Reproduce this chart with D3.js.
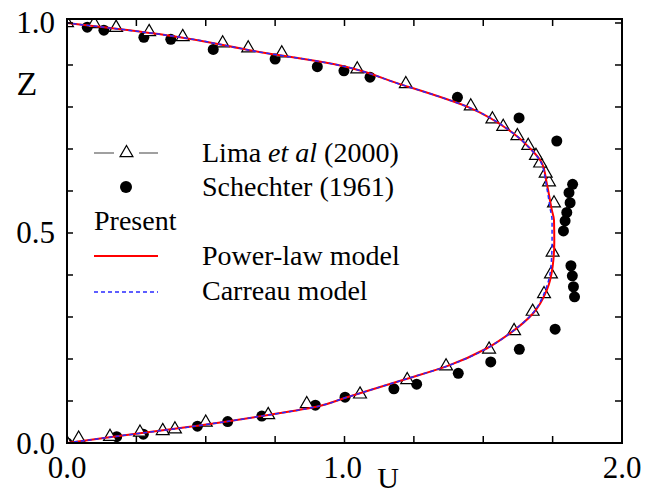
<!DOCTYPE html>
<html>
<head>
  <meta charset="utf-8">
  <title>Velocity profile U vs Z</title>
  <script src="https://d3js.org/d3.v7.min.js"></script>
  <style>
    body { margin: 0; background: #fff; }
    text { font-family: "Liberation Serif", "Times New Roman", serif; fill: #000; }
  </style>
</head>
<body>
<svg width="647" height="495"></svg>
<script>
  // Lima et al (2000) - triangles
  const limaU = [0.000, 0.042, 0.155, 0.263, 0.345, 0.389, 0.500, 0.725, 0.864, 1.056, 1.226, 1.366,
                 1.521, 1.611, 1.678, 1.719, 1.744, 1.750, 1.755, 1.737, 1.725, 1.705, 1.690, 1.662,
                 1.623, 1.572, 1.533, 1.455, 1.221, 1.046, 0.774, 0.653, 0.561, 0.417, 0.296, 0.177,
                 0.098, 0.000];
  const limaZ = [0.000, 0.011, 0.015, 0.025, 0.029, 0.033, 0.049, 0.067, 0.093, 0.116, 0.150, 0.183,
                 0.223, 0.267, 0.313, 0.355, 0.402, 0.454, 0.571, 0.621, 0.642, 0.666, 0.684, 0.708,
                 0.731, 0.753, 0.771, 0.802, 0.855, 0.890, 0.928, 0.940, 0.952, 0.967, 0.979, 0.989,
                 0.998, 1.000];

  // Schechter (1961) - filled circles
  const schU = [0.000, 0.179, 0.275, 0.470, 0.579, 0.702, 0.895, 1.002, 1.178, 1.260, 1.410, 1.527,
                1.630, 1.759, 1.829, 1.825, 1.821, 1.816, 1.789, 1.795, 1.801, 1.813, 1.809, 1.822,
                1.765, 1.629, 1.407, 1.092, 0.998, 0.902, 0.750, 0.527, 0.374, 0.277, 0.133, 0.073];
  const schZ = [0.000, 0.015, 0.021, 0.040, 0.051, 0.064, 0.090, 0.109, 0.129, 0.140, 0.166, 0.193,
                0.223, 0.271, 0.348, 0.372, 0.398, 0.422, 0.505, 0.529, 0.549, 0.572, 0.596, 0.616,
                0.719, 0.774, 0.823, 0.871, 0.886, 0.896, 0.914, 0.937, 0.961, 0.966, 0.983, 0.990];

  // Present: power-law and Carreau model curves
  const curveZ = [0.000, 0.016, 0.041, 0.064, 0.088, 0.107, 0.150, 0.183, 0.225, 0.261, 0.309, 0.364,
                  0.420, 0.480, 0.530, 0.555, 0.618, 0.667, 0.698, 0.738, 0.798, 0.852, 0.906, 0.928,
                  0.971, 1.000];
  const powerU = [0.000, 0.180, 0.470, 0.700, 0.910, 1.000, 1.210, 1.370, 1.512, 1.596, 1.680, 1.729,
                  1.750, 1.756, 1.755, 1.747, 1.729, 1.711, 1.674, 1.607, 1.452, 1.211, 0.930, 0.720,
                  0.359, 0.000];
  const carreauU = [0.000, 0.180, 0.470, 0.700, 0.910, 1.000, 1.210, 1.370, 1.512, 1.596, 1.678, 1.724,
                    1.744, 1.748, 1.748, 1.742, 1.726, 1.709, 1.673, 1.607, 1.452, 1.211, 0.930, 0.720,
                    0.359, 0.000];

  const xTicks = [0.25, 0.5, 0.75, 1.0, 1.25, 1.5, 1.75];
  const xLabels = [0, 1, 2];
  const yTicks = [0.1, 0.2, 0.3, 0.4, 0.5, 0.6, 0.7, 0.8, 0.9, 1.0];
  const yLabels = [0, 0.5, 1];

  const svg = d3.select("svg");
  const pLeft = 67, pRight = 622, pTop = 19, pBottom = 443;

  const x = d3.scaleLinear().domain([0, 2]).range([pLeft, pRight]);
  const y = d3.scaleLinear().domain([0, 1.0095]).range([pBottom, pTop]);

  svg.append("clipPath").attr("id", "plotClip")
    .append("rect")
    .attr("x", pLeft).attr("y", pTop)
    .attr("width", pRight - pLeft).attr("height", pBottom - pTop);

  const plot = svg.append("g").attr("clip-path", "url(#plotClip)");

  // markers
  const schData = schU.map((u, i) => ({u: u, z: schZ[i]}));
  const limaData = limaU.map((u, i) => ({u: u, z: limaZ[i]}));

  plot.selectAll("circle.sch")
    .data(schData)
    .enter().append("circle")
    .attr("class", "sch")
    .attr("cx", d => x(d.u))
    .attr("cy", d => y(d.z))
    .attr("r", 5.5)
    .attr("fill", "#000");

  const tri = d3.symbol().type(d3.symbolTriangle).size(72);
  plot.selectAll("path.lima")
    .data(limaData)
    .enter().append("path")
    .attr("class", "lima")
    .attr("d", tri)
    .attr("transform", d => `translate(${x(d.u)},${y(d.z)})`)
    .attr("fill", "#fff")
    .attr("stroke", "#000")
    .attr("stroke-width", 1.2);

  // model curves
  const line = d3.line()
    .x(d => x(d[0]))
    .y(d => y(d[1]))
    .curve(d3.curveMonotoneY);

  plot.append("path")
    .datum(powerU.map((u, i) => [u, curveZ[i]]))
    .attr("d", line)
    .attr("fill", "none")
    .attr("stroke", "#ff0000")
    .attr("stroke-width", 2);

  plot.append("path")
    .datum(carreauU.map((u, i) => [u, curveZ[i]]))
    .attr("d", line)
    .attr("fill", "none")
    .attr("stroke", "#2828ff")
    .attr("stroke-width", 1.5)
    .attr("stroke-dasharray", "4,3");

  // frame
  svg.append("rect")
    .attr("x", pLeft).attr("y", pTop)
    .attr("width", pRight - pLeft).attr("height", pBottom - pTop)
    .attr("fill", "none")
    .attr("stroke", "#000")
    .attr("stroke-width", 2);

  const ticks = svg.append("g").attr("stroke", "#000").attr("stroke-width", 1.5);
  xTicks.forEach(t => {
    ticks.append("line").attr("x1", x(t)).attr("x2", x(t)).attr("y1", pBottom).attr("y2", pBottom - 7);
    ticks.append("line").attr("x1", x(t)).attr("x2", x(t)).attr("y1", pTop).attr("y2", pTop + 7);
  });
  yTicks.forEach(t => {
    ticks.append("line").attr("x1", pLeft).attr("x2", pLeft + 6).attr("y1", y(t)).attr("y2", y(t));
    ticks.append("line").attr("x1", pRight).attr("x2", pRight - 7).attr("y1", y(t)).attr("y2", y(t));
  });

  svg.selectAll("text.xl")
    .data(xLabels)
    .enter().append("text")
    .attr("class", "xl")
    .attr("x", d => x(d) - (d === 1 ? 2 : 0))
    .attr("y", 478)
    .attr("text-anchor", "middle")
    .attr("font-size", 31)
    .text(d => d3.format(".1f")(d));

  svg.selectAll("text.yl")
    .data(yLabels)
    .enter().append("text")
    .attr("class", "yl")
    .attr("x", 55)
    .attr("y", d => y(d) + 10.5)
    .attr("text-anchor", "end")
    .attr("font-size", 31)
    .text(d => d3.format(".1f")(d));

  svg.append("text").attr("x", 388).attr("y", 488)
    .attr("text-anchor", "middle").attr("font-size", 30).text("U");
  svg.append("text").attr("x", 27).attr("y", 95)
    .attr("text-anchor", "middle").attr("font-size", 34).text("Z");

  // legend
  const lg = svg.append("g").attr("font-size", 28);
  lg.append("line").attr("x1", 94).attr("x2", 114).attr("y1", 153).attr("y2", 153)
    .attr("stroke", "#808080").attr("stroke-width", 1.5);
  lg.append("line").attr("x1", 139).attr("x2", 158).attr("y1", 153).attr("y2", 153)
    .attr("stroke", "#808080").attr("stroke-width", 1.5);
  lg.append("path").attr("d", tri).attr("transform", "translate(126.5,153)")
    .attr("fill", "#fff").attr("stroke", "#000").attr("stroke-width", 1.2);
  const limaText = lg.append("text").attr("x", 202).attr("y", 162);
  limaText.append("tspan").text("Lima ");
  limaText.append("tspan").attr("font-style", "italic").text("et al");
  limaText.append("tspan").text(" (2000)");

  lg.append("circle").attr("cx", 126).attr("cy", 187).attr("r", 6).attr("fill", "#000");
  lg.append("text").attr("x", 202).attr("y", 196).text("Schechter (1961)");

  lg.append("text").attr("x", 94).attr("y", 230).text("Present");

  lg.append("line").attr("x1", 94).attr("x2", 158).attr("y1", 256).attr("y2", 256)
    .attr("stroke", "#ff0000").attr("stroke-width", 2);
  lg.append("text").attr("x", 202).attr("y", 265).text("Power-law model");

  lg.append("line").attr("x1", 94).attr("x2", 158).attr("y1", 292).attr("y2", 292)
    .attr("stroke", "#2828ff").attr("stroke-width", 1.5).attr("stroke-dasharray", "4,3");
  lg.append("text").attr("x", 202).attr("y", 300).text("Carreau model");
</script>
</body>
</html>
